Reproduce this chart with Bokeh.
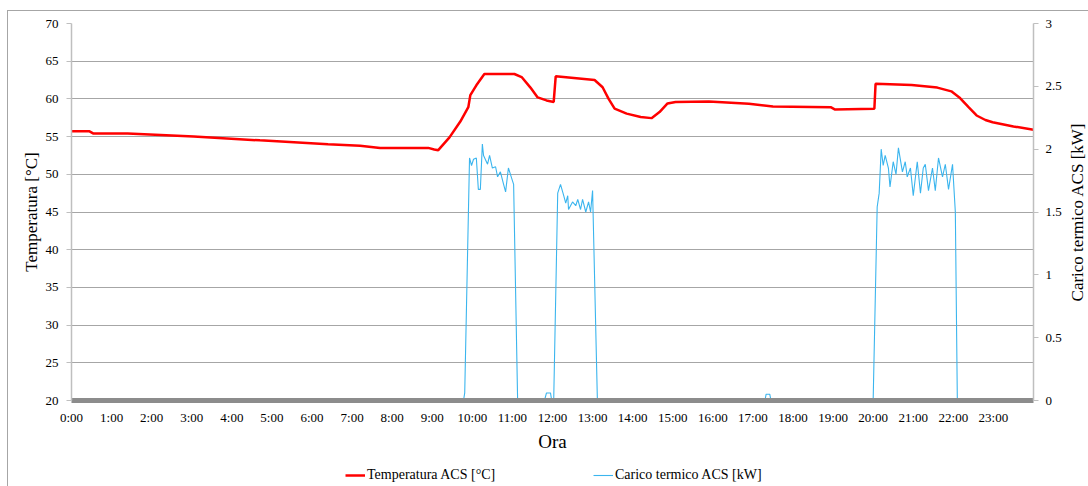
from bokeh.plotting import figure
from bokeh.layouts import column, row
from bokeh.models import Range1d, LinearAxis, FixedTicker, Legend, LegendItem
from bokeh.embed import file_html
from bokeh.resources import INLINE

# ---------------- data ----------------
hour_ticks = list(range(24))
hour_labels = [f"{h}:00" for h in hour_ticks]

temp_hours = [0.0, 0.45, 0.55, 1.4, 3.05, 4.7, 6.4, 7.2, 7.7, 8.9, 9.05, 9.15,
              9.43, 9.7, 9.9, 9.95, 10.1, 10.3, 11.05, 11.23, 11.45, 11.63,
              11.85, 12.03, 12.08, 13.05, 13.25, 13.4, 13.55, 13.85, 14.2,
              14.47, 14.67, 14.87, 15.07, 15.9, 16.9, 17.5, 18.94, 19.04,
              20.03, 20.06, 20.96, 21.6, 21.95, 22.15, 22.38, 22.58, 22.8,
              22.98, 23.5, 24.0]
temp_values = [55.7, 55.7, 55.4, 55.4, 55.0, 54.5, 54.0, 53.8, 53.5, 53.5, 53.3,
               53.2, 54.9, 57.0, 58.9, 60.5, 61.8, 63.3, 63.3, 62.9, 61.5, 60.2,
               59.8, 59.6, 63.0, 62.5, 61.55, 60.0, 58.7, 58.05, 57.6, 57.45,
               58.25, 59.4, 59.6, 59.65, 59.35, 59.0, 58.9, 58.6, 58.7, 62.0,
               61.85, 61.5, 61.0, 60.2, 58.9, 57.8, 57.2, 56.9, 56.35, 55.9]

load_hours = [0.0, 9.78, 9.81, 9.93, 9.98, 10.03, 10.1, 10.15, 10.2, 10.25,
              10.28, 10.38, 10.43, 10.5, 10.58, 10.63, 10.7, 10.78, 10.83,
              10.9, 11.0, 11.03, 11.13,
              11.8, 11.85, 11.95, 11.98,
              12.03, 12.13, 12.2, 12.28, 12.33, 12.38, 12.4, 12.5, 12.58, 12.63,
              12.7, 12.75, 12.83, 12.9, 12.95, 13.0, 13.12,
              17.3, 17.33, 17.42, 17.45,
              20.0, 20.1, 20.15, 20.2, 20.25, 20.3, 20.38, 20.42, 20.5, 20.57,
              20.63, 20.73, 20.8, 20.85, 20.93, 21.0, 21.1, 21.18, 21.25, 21.3,
              21.38, 21.48, 21.55, 21.63, 21.73, 21.8, 21.88, 21.98, 22.05,
              22.1, 24.0]
load_values = [0.0, 0.0, 0.06, 1.93, 1.87, 1.92, 1.93, 1.68, 1.68, 2.04,
               1.95, 1.88, 1.95, 1.85, 1.86, 1.78, 1.82, 1.72, 1.66,
               1.85, 1.75, 1.72, 0.0,
               0.0, 0.06, 0.06, 0.0,
               0.0, 1.65, 1.72, 1.63, 1.57, 1.63, 1.52, 1.58, 1.55, 1.6,
               1.52, 1.6, 1.5, 1.58, 1.5, 1.67, 0.0,
               0.0, 0.05, 0.05, 0.0,
               0.0, 1.54, 1.65, 2.0, 1.87, 1.95, 1.85, 1.7, 1.9, 1.8,
               2.01, 1.82, 1.9, 1.78, 1.85, 1.63, 1.9, 1.65, 1.85, 1.88,
               1.67, 1.85, 1.67, 1.93, 1.78, 1.88, 1.68, 1.88, 1.5,
               0.0, 0.0]

temp_ticks = [20, 25, 30, 35, 40, 45, 50, 55, 60, 65, 70]
load_ticks = [0, 0.5, 1, 1.5, 2, 2.5, 3]
load_tick_labels = ["0", "0.5", "1", "1.5", "2", "2.5", "3"]
series_names = ["Temperatura ACS [°C]", "Carico termico ACS [kW]"]

# ---------------- styling ----------------
FONT = "Liberation Serif"
BORDER = "#A6A6A6"
RED = "#FF0000"
BLUE = "#3BB5EE"

# ---------------- main chart ----------------
p1 = figure(width=1064, height=460, output_backend="svg", toolbar_location=None,
            x_range=Range1d(0, 24), y_range=Range1d(20, 70),
            min_border_left=71, min_border_right=31, min_border_top=23,
            min_border_bottom=60)
p1.outline_line_color = None
p1.background_fill_color = "white"
p1.border_fill_alpha = 0
p1.styles = {
    "background": (f"linear-gradient({BORDER},{BORDER}) 7px 10px / 1px 100% no-repeat, "
                   f"linear-gradient({BORDER},{BORDER}) 7px 10px / 100% 1px no-repeat, "
                   "white")
}
p1.extra_y_ranges = {"kw": Range1d(0, 3)}

# x axis
xa = p1.xaxis[0]
xa.ticker = FixedTicker(ticks=hour_ticks)
xa.major_label_overrides = {t: l for t, l in zip(hour_ticks, hour_labels)}
xa.axis_line_color = "#8C8C8C"
xa.axis_line_width = 5
xa.major_tick_out = 0
xa.major_tick_in = 0
xa.minor_tick_out = 0
xa.minor_tick_in = 0
xa.major_label_standoff = 9
xa.major_label_text_font = FONT
xa.major_label_text_font_size = "13px"
xa.major_label_text_color = "#000000"
xa.axis_label = "Ora"
xa.axis_label_text_font = FONT
xa.axis_label_text_font_size = "19px"
xa.axis_label_text_font_style = "normal"
xa.axis_label_text_color = "#000000"
xa.axis_label_standoff = 3

# left axis
ya = p1.yaxis[0]
ya.ticker = FixedTicker(ticks=temp_ticks)
ya.axis_line_color = "#BFBFBF"
ya.axis_line_width = 1.5
ya.major_tick_out = 5
ya.major_tick_in = 0
ya.major_tick_line_color = "#BFBFBF"
ya.minor_tick_out = 0
ya.minor_tick_in = 0
ya.major_label_standoff = 8
ya.major_label_text_font = FONT
ya.major_label_text_font_size = "13px"
ya.major_label_text_color = "#000000"
ya.axis_label = "Temperatura [°C]"
ya.axis_label_text_font = FONT
ya.axis_label_text_font_size = "17px"
ya.axis_label_text_font_style = "normal"
ya.axis_label_text_color = "#000000"
ya.axis_label_standoff = 2

# right axis (ticks and numbers; its title is drawn by the narrow strip p3)
ra = LinearAxis(y_range_name="kw", ticker=FixedTicker(ticks=load_ticks))
ra.major_label_overrides = {t: l for t, l in zip(load_ticks, load_tick_labels)}
ra.axis_line_color = "#BFBFBF"
ra.axis_line_width = 1.5
ra.major_tick_out = 5
ra.major_tick_in = 0
ra.major_tick_line_color = "#BFBFBF"
ra.minor_tick_out = 0
ra.minor_tick_in = 0
ra.major_label_standoff = 7
ra.major_label_text_font = FONT
ra.major_label_text_font_size = "13px"
ra.major_label_text_color = "#000000"
p1.add_layout(ra, "right")

# grid
p1.xgrid.grid_line_color = None
p1.ygrid.ticker = FixedTicker(ticks=temp_ticks)
p1.ygrid.grid_line_color = "#A6A6A6"
p1.ygrid.grid_line_width = 1

# series
p1.line(load_hours, load_values, y_range_name="kw", line_color=BLUE, line_width=1.1)
p1.line(temp_hours, temp_values, line_color=RED, line_width=2.5)

# ---------------- right title strip ----------------
p3 = figure(width=24, height=460, output_backend="svg", toolbar_location=None,
            x_axis_type=None, x_range=Range1d(0, 1), y_range=Range1d(0, 3),
            min_border_left=22, min_border_right=0, min_border_top=23,
            min_border_bottom=60)
p3.outline_line_color = None
p3.grid.visible = False
p3.background_fill_color = "white"
p3.border_fill_alpha = 0
p3.styles = {
    "background": (f"linear-gradient({BORDER},{BORDER}) 0px 10px / 100% 1px no-repeat, "
                   "white")
}
ta = p3.yaxis[0]
ta.ticker = FixedTicker(ticks=[])
ta.axis_line_color = None
ta.major_tick_out = 0
ta.major_tick_in = 0
ta.minor_tick_out = 0
ta.minor_tick_in = 0
ta.major_label_standoff = 0
ta.axis_label = series_names[1].replace("Carico", "Carico")  # same text as legend
ta.axis_label_text_font = FONT
ta.axis_label_text_font_size = "17px"
ta.axis_label_text_font_style = "normal"
ta.axis_label_text_color = "#000000"
ta.axis_label_standoff = 0

# ---------------- legend strip ----------------
p2 = figure(width=1088, height=26, output_backend="svg", toolbar_location=None,
            x_axis_type=None, y_axis_type=None,
            x_range=Range1d(0, 24), y_range=Range1d(-2, -1),
            min_border_left=71, min_border_right=55, min_border_top=0,
            min_border_bottom=0)
p2.outline_line_color = None
p2.grid.visible = False
p2.background_fill_color = "white"
p2.border_fill_alpha = 0
p2.styles = {
    "background": (f"linear-gradient({BORDER},{BORDER}) 7px 0px / 1px 100% no-repeat, "
                   "white")
}
# same series, out of this strip's visible range: used only for legend swatches
lr_temp = p2.line(temp_hours, temp_values, line_color=RED, line_width=2.5)
lr_load = p2.line(load_hours, load_values, line_color=BLUE, line_width=1.1)
for rend, name, vx in ((lr_temp, series_names[0], 274), (lr_load, series_names[1], 522)):
    lg = Legend(items=[LegendItem(label=name, renderers=[rend])],
                location=(vx, 1), padding=0, margin=0,
                border_line_alpha=0, background_fill_alpha=0,
                label_text_font=FONT, label_text_font_size="14px",
                label_text_color="#000000",
                glyph_width=20, glyph_height=20, label_standoff=2,
                label_height=20)
    p2.add_layout(lg, "center")

p = column(row(p1, p3, spacing=0), p2, spacing=0)

open("out.html", "w").write(file_html(p, INLINE))
